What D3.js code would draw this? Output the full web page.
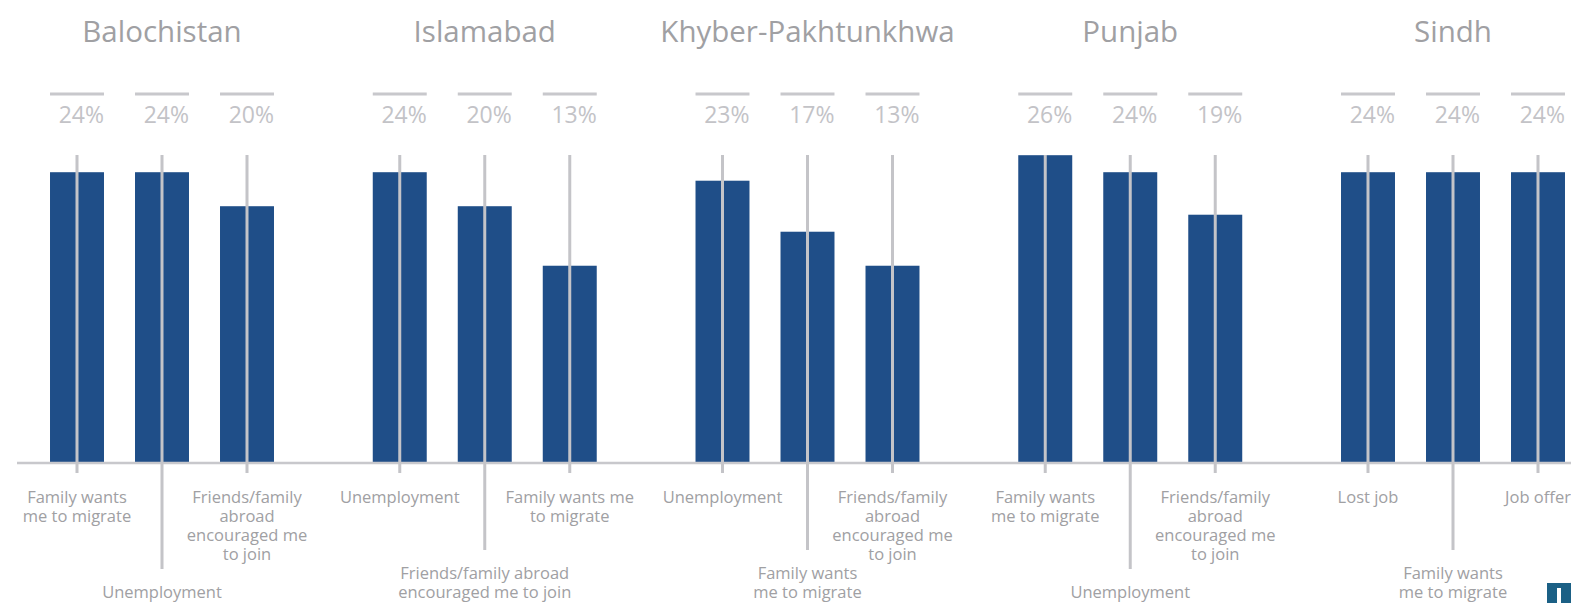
<!DOCTYPE html>
<html lang="en">
<head>
    <meta charset="utf-8">
    <title>Top reasons to migrate by province</title>
    <script src="https://d3js.org/d3.v7.min.js"></script>
    <style>
        body {
            margin: 0;
            padding: 0;
            background: #fff;
            font-family: 'Segoe UI', 'Open Sans', sans-serif;
            overflow: hidden;
        }
    </style>
</head>
<body>
    <div id="chart"></div>

    <script>
        // Provinces (one group each)
        var regions = ["Balochistan", "Islamabad", "Khyber-Pakhtunkhwa", "Punjab", "Sindh"];

        // Top three reasons per province ("\n" = line break in the tick label)
        var balochistanReasons = ["Family wants\nme to migrate", "Unemployment", "Friends/family\nabroad\nencouraged me\nto join"];
        var islamabadReasons = ["Unemployment", "Friends/family abroad\nencouraged me to join", "Family wants me\nto migrate"];
        var kpReasons = ["Unemployment", "Family wants\nme to migrate", "Friends/family\nabroad\nencouraged me\nto join"];
        var punjabReasons = ["Family wants\nme to migrate", "Unemployment", "Friends/family\nabroad\nencouraged me\nto join"];
        var sindhReasons = ["Lost job", "Family wants\nme to migrate", "Job offer"];

        // Share of respondents (%)
        var balochistanValues = [24, 24, 20];
        var islamabadValues = [24, 20, 13];
        var kpValues = [23, 17, 13];
        var punjabValues = [26, 24, 19];
        var sindhValues = [24, 24, 24];

        var reasons = [balochistanReasons, islamabadReasons, kpReasons, punjabReasons, sindhReasons];
        var values = [balochistanValues, islamabadValues, kpValues, punjabValues, sindhValues];

        var width = 1571, height = 603;
        var baseY = 463;

        // flat table for drawing
        var data = [];
        regions.forEach(function(r, i) {
            reasons[i].forEach(function(label, j) {
                data.push({region: r, slot: j, label: label, value: values[i][j]});
            });
        });

        var svg = d3.select("#chart")
            .append("svg")
            .attr("width", width)
            .attr("height", height);

        // group scale and bar scale inside each group
        var x0 = d3.scaleBand()
            .domain(regions)
            .range([34.5, 34.5 + 322.75 * regions.length]);

        var x1 = d3.scaleBand()
            .domain([0, 1, 2])
            .range([0, 255])
            .paddingInner(0.365)
            .paddingOuter(0.1825);

        // value axis does not start at zero (auto range of the original)
        var y = d3.scaleLinear()
            .domain([-10.2, 26])
            .range([baseY, 155.2]);

        var barX = function(d) { return x0(d.region) + x1(d.slot); };
        var barMid = function(d) { return barX(d) + x1.bandwidth() / 2; };

        // group titles
        svg.selectAll(".title")
            .data(regions)
            .enter()
            .append("text")
            .attr("class", "title")
            .attr("x", function(d) { return x0(d) + x1(1) + x1.bandwidth() / 2; })
            .attr("y", 42)
            .attr("text-anchor", "middle")
            .style("font-size", "29.5px")
            .style("fill", "#a0a0a3")
            .text(function(d) { return d; });

        // short line above each value label
        svg.selectAll(".capline")
            .data(data)
            .enter()
            .append("line")
            .attr("x1", barX)
            .attr("x2", function(d) { return barX(d) + x1.bandwidth(); })
            .attr("y1", 94)
            .attr("y2", 94)
            .style("stroke", "#c8c8cc")
            .style("stroke-width", 3);

        // value labels
        svg.selectAll(".value")
            .data(data)
            .enter()
            .append("text")
            .attr("x", function(d) { return barX(d) + x1.bandwidth(); })
            .attr("y", 123)
            .attr("text-anchor", "end")
            .style("font-size", "23px")
            .style("fill", "#c3c3c7")
            .text(function(d) { return d.value + "%"; });

        // bars
        svg.selectAll(".bar")
            .data(data)
            .enter()
            .append("rect")
            .attr("x", barX)
            .attr("y", function(d) { return y(d.value); })
            .attr("width", x1.bandwidth())
            .attr("height", function(d) { return baseY - y(d.value); })
            .style("fill", "#1f4e88");

        // baseline
        svg.append("line")
            .attr("x1", 17)
            .attr("x2", width)
            .attr("y1", baseY)
            .attr("y2", baseY)
            .style("stroke", "#c8c8cc")
            .style("stroke-width", 2.5);

        // tick labels: middle slot is staggered down, bottom aligned
        var lineH = 19;
        var lowBottom = 594;
        var highTop = 499;

        var firstLineY = function(d) {
            var n = d.label.split("\n").length;
            return d.slot === 1 ? lowBottom - (n - 1) * lineH : highTop;
        };

        // vertical guide lines through bars
        svg.selectAll(".guide")
            .data(data)
            .enter()
            .append("line")
            .attr("x1", barMid)
            .attr("x2", barMid)
            .attr("y1", 155)
            .attr("y2", function(d) { return d.slot === 1 ? firstLineY(d) - 25 : baseY + 10; })
            .style("stroke", "#c4c4c8")
            .style("stroke-width", 3);

        var labels = svg.selectAll(".tick-label")
            .data(data)
            .enter()
            .append("text")
            .attr("text-anchor", "middle")
            .attr("dominant-baseline", "middle")
            .style("font-size", "16.5px")
            .style("fill", "#a0a0a3");

        labels.each(function(d) {
            var t = d3.select(this);
            var y0 = firstLineY(d);
            d.label.split("\n").forEach(function(line, k) {
                t.append("tspan")
                    .attr("x", barMid(d))
                    .attr("y", y0 + k * lineH)
                    .text(line);
            });
        });

        // small logo cut off in the corner
        svg.append("rect")
            .attr("x", 1547)
            .attr("y", 583)
            .attr("width", 30)
            .attr("height", 30)
            .style("fill", "#1b6085");
        svg.append("rect")
            .attr("x", 1557)
            .attr("y", 588)
            .attr("width", 4)
            .attr("height", 20)
            .style("fill", "#fff");
    </script>
</body>
</html>
